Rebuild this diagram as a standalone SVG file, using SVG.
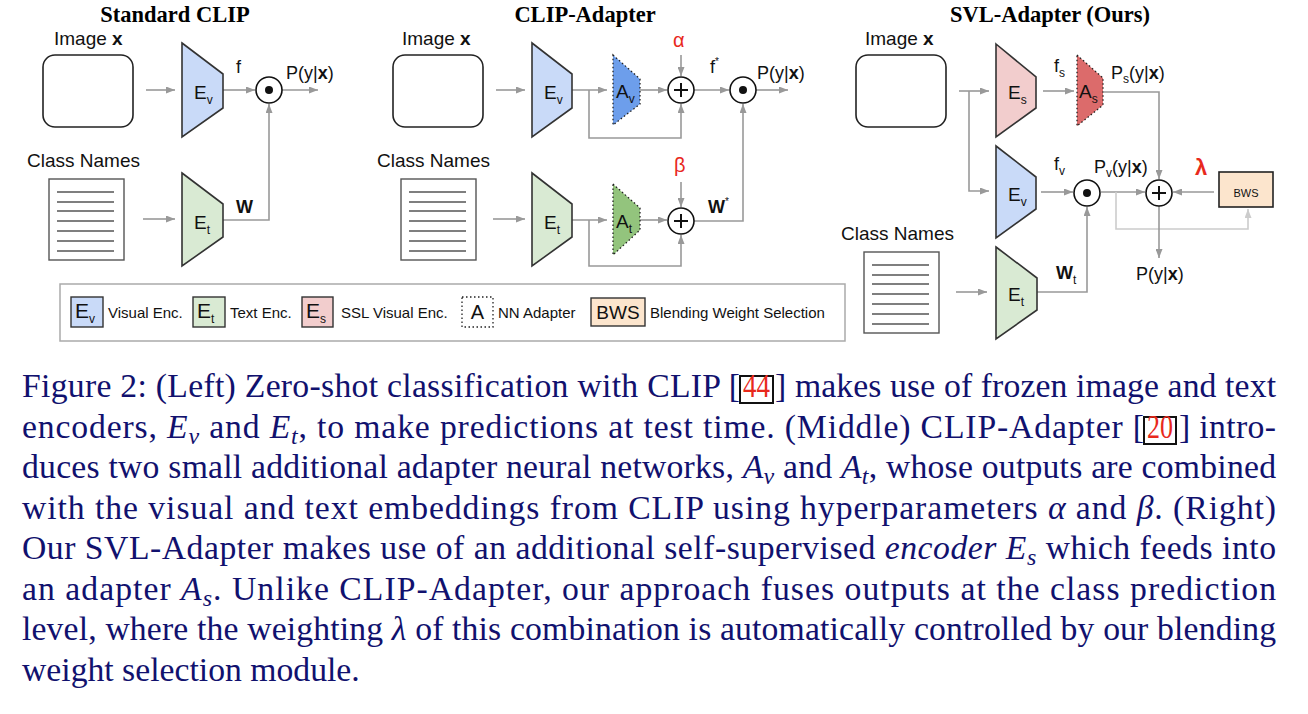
<svg xmlns="http://www.w3.org/2000/svg" width="1308" height="714" viewBox="0 0 1308 714">
<defs>
<marker id="ah" markerWidth="9" markerHeight="7" refX="9" refY="3.5" orient="auto" markerUnits="userSpaceOnUse"><path d="M0,0 L9,3.5 L0,7 z" fill="#999"/></marker>
<marker id="ahl" markerWidth="9" markerHeight="7" refX="9" refY="3.5" orient="auto" markerUnits="userSpaceOnUse"><path d="M0,0 L9,3.5 L0,7 z" fill="#ccc"/></marker>
<g id="doc"><rect x="0" y="0" width="75" height="81" fill="#fff" stroke="#555" stroke-width="1.4"/><path d="M8,13 H65 M8,23 H65 M8,32 H65 M8,42 H65 M8,52 H65 M8,62 H65 M8,72 H65" stroke="#555" stroke-width="1.4"/></g>
</defs>
<style>
.t{font-family:"Liberation Sans",Arial,sans-serif;fill:#111}
.title{font-family:"Liberation Serif","Times New Roman",serif;font-weight:bold;font-size:22.5px;fill:#000;text-anchor:middle}
.lbl{font-size:19px}
.sm{font-size:18px}
.enc{stroke:#333;stroke-width:1.6}
.ad{stroke:#222;stroke-width:1.3;stroke-dasharray:1.5 2.5}
.c{fill:none;stroke:#999;stroke-width:1.6;marker-end:url(#ah)}
.cl{fill:none;stroke:#ccc;stroke-width:1.6;marker-end:url(#ahl)}
.img{fill:#fff;stroke:#222;stroke-width:1.6}
.op{fill:#fff;stroke:#111;stroke-width:1.6}
.pl{stroke:#111;stroke-width:2}
.cap{font-family:"Liberation Serif","Times New Roman",serif;font-size:33.7px;fill:#11116e}
.it{font-style:italic}
.leg{font-size:15px}
.red{fill:#e8291c}
</style>
<rect width="1308" height="714" fill="#fff"/>

<!-- titles -->
<g id="title-standard"><text class="title" x="175" y="22">Standard CLIP</text></g>
<g id="title-clipadapter"><text class="title" x="585" y="22">CLIP-Adapter</text></g>
<g id="title-svl"><text class="title" x="1050" y="22">SVL-Adapter (Ours)</text></g>

<!-- connectors -->
<g id="connectors">
<path class="c" d="M146,90 H175"/>
<path class="c" d="M223,90 H255"/>
<path class="c" d="M282,90 H318"/>
<path class="c" d="M143,219 H175"/>
<path class="c" d="M223,220 H269 V104"/>

<path class="c" d="M496,90 H525"/>
<path class="c" d="M572,90 H607"/>
<path class="c" d="M589,90 V138 H681 V104"/>
<path class="c" d="M640,90 H667"/>
<path class="c" d="M681,55 V76"/>
<path class="c" d="M694,90 H729"/>
<path class="c" d="M756,90 H788"/>
<path class="c" d="M493,219 H525"/>
<path class="c" d="M572,220 H607"/>
<path class="c" d="M589,220 V266 H681 V235"/>
<path class="c" d="M640,220 H667"/>
<path class="c" d="M681,182 V207"/>
<path class="c" d="M694,221 H743 V104"/>

<path class="c" d="M959,91 H989"/>
<path class="c" d="M969,91 V191 H989"/>
<path class="c" d="M1043,91 H1074"/>
<path class="c" d="M1104,92 H1159 V179"/>
<path class="c" d="M1041,192 H1073"/>
<path class="c" d="M1101,192 H1145"/>
<path class="c" d="M1214,192 H1173"/>
<path class="cl" d="M1116,192 V229 H1248 V209"/>
<path class="c" d="M1159,206 V258"/>
<path class="c" d="M956,292 H987"/>
<path class="c" d="M1037,292 H1087 V207"/>
</g>

<!-- Standard CLIP -->
<g id="l-image"><text class="t lbl" x="54" y="45">Image <tspan font-weight="bold">x</tspan></text><rect class="img" x="43" y="55" width="90" height="72" rx="12"/></g>
<g id="l-ev"><polygon class="enc" fill="#c9daf8" points="182,43 223,74 223,108 182,137"/><text class="t" font-size="19" x="194" y="99">E<tspan font-size="12" dy="5">v</tspan></text></g>
<g id="l-dot"><circle class="op" cx="269" cy="90" r="13"/><circle cx="269" cy="90" r="4" fill="#111"/></g>
<g id="l-classnames"><text class="t lbl" x="27" y="167">Class Names</text><use href="#doc" x="49" y="179"/></g>
<g id="l-et"><polygon class="enc" fill="#d9ead3" points="182,173 223,204 223,237 182,266"/><text class="t" font-size="19" x="194" y="229">E<tspan font-size="12" dy="5">t</tspan></text></g>
<g id="l-labels">
<text class="t sm" x="236" y="73">f</text>
<text class="t sm" x="286" y="79">P(y|<tspan font-weight="bold">x</tspan>)</text>
<text class="t sm" x="236" y="213" font-weight="bold">W</text>
</g>

<!-- CLIP-Adapter -->
<g id="m-image"><text class="t lbl" x="402" y="45">Image <tspan font-weight="bold">x</tspan></text><rect class="img" x="393" y="55" width="90" height="72" rx="12"/></g>
<g id="m-ev"><polygon class="enc" fill="#c9daf8" points="532,43 572,74 572,108 532,137"/><text class="t" font-size="19" x="544" y="99">E<tspan font-size="12" dy="5">v</tspan></text></g>
<g id="m-av"><polygon class="ad" fill="#6d9eeb" points="613,55 640,79 640,104 613,125"/><text class="t" font-size="19" x="616" y="98">A<tspan font-size="12" dy="5">v</tspan></text></g>
<g id="m-plus1"><circle class="op" cx="681" cy="90" r="13"/><path class="pl" d="M674,90 H688 M681,83 V97"/></g>
<g id="m-alpha"><text class="t red" font-size="20" x="673" y="47">α</text></g>
<g id="m-dot"><circle class="op" cx="743" cy="90" r="13"/><circle cx="743" cy="90" r="4" fill="#111"/></g>
<g id="m-classnames"><text class="t lbl" x="377" y="167">Class Names</text><use href="#doc" x="401" y="179"/></g>
<g id="m-et"><polygon class="enc" fill="#d9ead3" points="532,173 572,204 572,237 532,266"/><text class="t" font-size="19" x="544" y="229">E<tspan font-size="12" dy="5">t</tspan></text></g>
<g id="m-at"><polygon class="ad" fill="#93c47d" points="613,184 640,208 640,230 613,255"/><text class="t" font-size="19" x="616" y="228">A<tspan font-size="12" dy="5">t</tspan></text></g>
<g id="m-plus2"><circle class="op" cx="681" cy="221" r="13"/><path class="pl" d="M674,221 H688 M681,214 V228"/></g>
<g id="m-beta"><text class="t red" font-size="20" x="674" y="172">β</text></g>
<g id="m-labels">
<text class="t sm" x="710" y="73">f<tspan font-size="10" dy="-8">*</tspan></text>
<text class="t sm" x="757" y="79">P(y|<tspan font-weight="bold">x</tspan>)</text>
<text class="t sm" x="708" y="213" font-weight="bold">W<tspan font-size="10" font-weight="normal" dy="-8">*</tspan></text>
</g>

<!-- SVL-Adapter -->
<g id="r-image"><text class="t lbl" x="865" y="45">Image <tspan font-weight="bold">x</tspan></text><rect class="img" x="856" y="55" width="90" height="72" rx="12"/></g>
<g id="r-es"><polygon class="enc" fill="#f2cdcd" points="996,44 1036,77 1036,108 996,137"/><text class="t" font-size="19" x="1008" y="99">E<tspan font-size="12" dy="5">s</tspan></text></g>
<g id="r-as"><polygon class="ad" fill="#dc6b6b" points="1077,55 1103,78 1103,105 1077,126"/><text class="t" font-size="19" x="1079" y="98">A<tspan font-size="12" dy="5">s</tspan></text></g>
<g id="r-ev"><polygon class="enc" fill="#c9daf8" points="996,146 1036,177 1036,209 996,238"/><text class="t" font-size="19" x="1008" y="201">E<tspan font-size="12" dy="5">v</tspan></text></g>
<g id="r-dot"><circle class="op" cx="1087" cy="193" r="13"/><circle cx="1087" cy="193" r="4" fill="#111"/></g>
<g id="r-plus"><circle class="op" cx="1159" cy="193" r="13"/><path class="pl" d="M1152,193 H1166 M1159,186 V200"/></g>
<g id="r-bws"><rect x="1219" y="172" width="54" height="35" fill="#fce5cd" stroke="#222" stroke-width="1.6"/><text class="t" font-size="11" x="1246" y="197" text-anchor="middle">BWS</text></g>
<g id="r-lambda"><text class="t red" font-size="22" font-weight="bold" x="1195" y="175">λ</text></g>
<g id="r-classnames"><text class="t lbl" x="841" y="240">Class Names</text><use href="#doc" x="864" y="252"/></g>
<g id="r-et"><polygon class="enc" fill="#d9ead3" points="996,247 1037,278 1037,310 996,339"/><text class="t" font-size="19" x="1008" y="301">E<tspan font-size="12" dy="5">t</tspan></text></g>
<g id="r-labels">
<text class="t sm" x="1054" y="72">f<tspan font-size="12" dy="5">s</tspan></text>
<text class="t sm" x="1111" y="79">P<tspan font-size="12" dy="4">s</tspan><tspan dy="-4">(y|</tspan><tspan font-weight="bold">x</tspan>)</text>
<text class="t sm" x="1054" y="170">f<tspan font-size="12" dy="5">v</tspan></text>
<text class="t sm" x="1094" y="173">P<tspan font-size="12" dy="4">v</tspan><tspan dy="-4">(y|</tspan><tspan font-weight="bold">x</tspan>)</text>
<text class="t sm" x="1136" y="280">P(y|<tspan font-weight="bold">x</tspan>)</text>
<text class="t sm" x="1056" y="279" font-weight="bold">W<tspan font-size="12" font-weight="normal" dy="5">t</tspan></text>
</g>

<!-- legend -->
<g id="legend">
<rect x="60" y="284" width="785" height="57" fill="#fff" stroke="#aaa" stroke-width="1.5"/>
<rect x="71" y="297" width="32" height="30" fill="#c9daf8" stroke="#333" stroke-width="1.4"/>
<text class="t" font-size="21" x="75" y="318">E<tspan font-size="12" dy="5">v</tspan></text>
<text class="t leg" x="108" y="318">Visual Enc.</text>
<rect x="193" y="297" width="32" height="30" fill="#d9ead3" stroke="#333" stroke-width="1.4"/>
<text class="t" font-size="21" x="197" y="318">E<tspan font-size="12" dy="5">t</tspan></text>
<text class="t leg" x="230" y="318">Text Enc.</text>
<rect x="302" y="297" width="31" height="30" fill="#f2cdcd" stroke="#333" stroke-width="1.4"/>
<text class="t" font-size="21" x="306" y="318">E<tspan font-size="12" dy="5">s</tspan></text>
<text class="t leg" x="341" y="318">SSL Visual Enc.</text>
<rect x="462" y="297" width="31" height="30" fill="#fff" stroke="#222" stroke-width="1.3" stroke-dasharray="1.5 2.5"/>
<text class="t" font-size="20" x="477.5" y="319" text-anchor="middle">A</text>
<text class="t leg" x="498" y="318">NN Adapter</text>
<rect x="591" y="298" width="54" height="28" fill="#fce5cd" stroke="#333" stroke-width="1.4"/>
<text class="t" font-size="19" x="618" y="319" text-anchor="middle">BWS</text>
<text class="t leg" x="650" y="318">Blending Weight Selection</text>
</g>

<!-- caption -->
<g id="caption">
<text class="cap" x="22" y="397" textLength="718" lengthAdjust="spacing">Figure 2: (Left) Zero-shot classification with CLIP [</text>
<rect x="740" y="376" width="33" height="27" fill="none" stroke="#111" stroke-width="2"/>
<text class="cap" style="fill:#e8291c" x="743" y="397" textLength="27" lengthAdjust="spacingAndGlyphs">44</text>
<text class="cap" x="775" y="397" textLength="501" lengthAdjust="spacing">] makes use of frozen image and text</text>

<text class="cap" x="22" y="438" textLength="1122" lengthAdjust="spacing">encoders, <tspan class="it">E</tspan><tspan class="it" font-size="24" dy="6">v</tspan><tspan dy="-6"> and </tspan><tspan class="it">E</tspan><tspan class="it" font-size="24" dy="6">t</tspan><tspan dy="-6">, to make predictions at test time. (Middle) CLIP-Adapter [</tspan></text>
<rect x="1144" y="417" width="32" height="27" fill="none" stroke="#111" stroke-width="2"/>
<text class="cap" style="fill:#e8291c" x="1147" y="438" textLength="26" lengthAdjust="spacingAndGlyphs">20</text>
<text class="cap" x="1179" y="438" textLength="97" lengthAdjust="spacing">] intro-</text>

<text class="cap" x="22" y="478" textLength="1254" lengthAdjust="spacing">duces two small additional adapter neural networks, <tspan class="it">A</tspan><tspan class="it" font-size="24" dy="6">v</tspan><tspan dy="-6"> and </tspan><tspan class="it">A</tspan><tspan class="it" font-size="24" dy="6">t</tspan><tspan dy="-6">, whose outputs are combined</tspan></text>

<text class="cap" x="22" y="519" textLength="1254" lengthAdjust="spacing">with the visual and text embeddings from CLIP using hyperparameters <tspan class="it">α</tspan> and <tspan class="it">β</tspan>. (Right)</text>

<text class="cap" x="22" y="559" textLength="1254" lengthAdjust="spacing">Our SVL-Adapter makes use of an additional self-supervised <tspan class="it">encoder E</tspan><tspan class="it" font-size="24" dy="6">s</tspan><tspan dy="-6"> which feeds into</tspan></text>

<text class="cap" x="22" y="600" textLength="1254" lengthAdjust="spacing">an adapter <tspan class="it">A</tspan><tspan class="it" font-size="24" dy="6">s</tspan><tspan dy="-6">. Unlike CLIP-Adapter, our approach fuses outputs at the class prediction</tspan></text>

<text class="cap" x="22" y="640" textLength="1254" lengthAdjust="spacing">level, where the weighting <tspan class="it">λ</tspan> of this combination is automatically controlled by our blending</text>

<text class="cap" x="22" y="681">weight selection module.</text>
</g>
</svg>
